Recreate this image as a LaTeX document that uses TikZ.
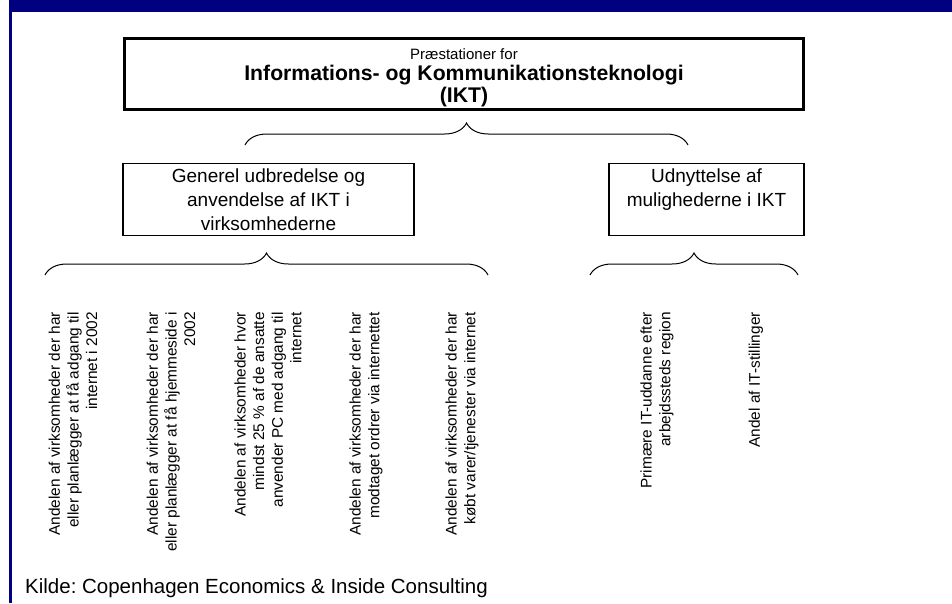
\documentclass[tikz,border=0pt]{standalone}
\usepackage{fontspec}
\setmainfont{Liberation Sans}
\usepackage{tikz}
\usetikzlibrary{decorations.pathreplacing}
\definecolor{navy}{RGB}{0,0,128}
\newcommand{\ikttitel}{\fontsize{21.2}{25.5}\selectfont\bfseries}

\begin{document}
\begin{tikzpicture}[
  x=1pt, y=-1pt,
  hoved/.style={draw, line width=3.5pt, minimum width=679pt, minimum height=71pt,
                align=center, inner xsep=2pt, inner ysep=0pt, font=\fontsize{15}{18}\selectfont},
  omraade/.style={draw, line width=1.8pt, minimum height=72pt, align=center,
                  inner sep=2pt, font=\fontsize{19}{24}\selectfont},
  maal/.style={rotate=90, anchor=east, align=right, inner sep=0pt,
               font=\fontsize{15.4}{18.6}\selectfont},
  brc/.style={decorate, decoration={brace, amplitude=22pt}, line width=1pt}
]
\useasboundingbox (0,0) rectangle (952,603);
% --- frame -------------------------------------------------------------
\fill[navy] (9,0) rectangle (952,12);
\fill[navy] (9,0) rectangle (11.5,603);
% --- top box -------------------------------------------------------------
\node[hoved] (ikt) at (464,74)
  {\rule{0pt}{20pt}Præstationer for\\[3pt]
   \ikttitel Informations- og Kommunikationsteknologi\\[2pt]
   \ikttitel (IKT)\rule[-6pt]{0pt}{6pt}};
% --- second level --------------------------------------------------------
\node[omraade, minimum width=291pt] (gen) at (268.5,199.5)
  {Generel udbredelse og\\anvendelse af IKT i\\virksomhederne};
\node[omraade, minimum width=195pt] (udn) at (706.5,199.5)
  {Udnyttelse af\\mulighederne i IKT\\\mbox{}};
% --- braces --------------------------------------------------------------
\coordinate (topL) at (245,145);
\coordinate (topR) at (688,145);
\coordinate (genL) at (45,275);
\coordinate (genR) at (488,275);
\coordinate (udnL) at (590,275);
\coordinate (udnR) at (798,275);
\draw[brc] (topL) -- (topR);
\draw[brc] (genL) -- (genR);
\draw[brc] (udnL) -- (udnR);
% --- indicators ----------------------------------------------------------
\node[maal] (m1) at (73,312)
  {Andelen af virksomheder der har\\eller planlægger at få adgang til\\internet i 2002};
\node[maal] (m2) at (171,312)
  {Andelen af virksomheder der har\\eller planlægger at få hjemmeside i\\2002};
\node[maal] (m3) at (268,312)
  {Andelen af virksomheder hvor\\mindst 25 \% af de ansatte\\anvender PC med adgang til\\internet};
\node[maal] (m4) at (366,312)
  {Andelen af virksomheder der har\\modtaget ordrer via internettet};
\node[maal] (m5) at (462,312)
  {Andelen af virksomheder der har\\købt varer/tjenester via internet};
\node[maal] (m6) at (657,312)
  {Primære IT-uddanne efter\\arbejdssteds region};
\node[maal] (m7) at (756,312)
  {Andel af IT-stillinger};
% --- source --------------------------------------------------------------
\node[anchor=west, inner sep=0pt, font=\fontsize{20.5}{24}\selectfont] (kilde) at (25,588)
  {Kilde:\ Copenhagen Economics \& Inside Consulting};
\end{tikzpicture}
\end{document}
